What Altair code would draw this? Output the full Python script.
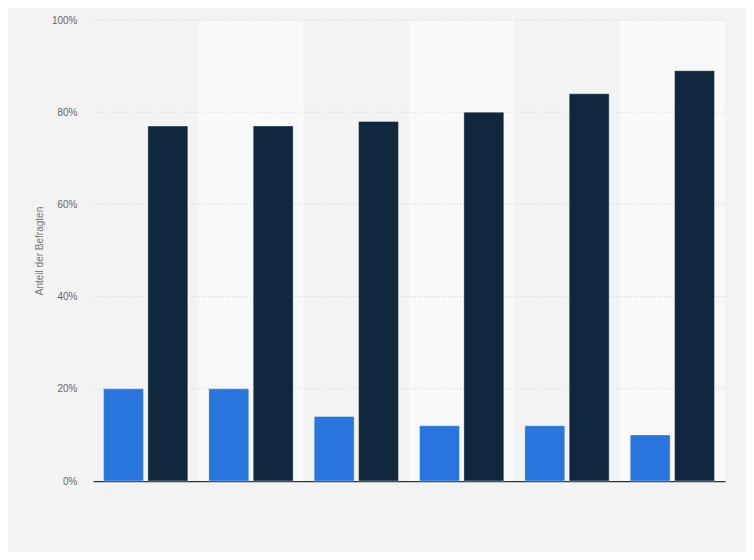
import altair as alt
import pandas as pd

groups = ["1", "2", "3", "4", "5", "6"]
series = ["A", "B"]
values_a = [20, 20, 14, 12, 12, 10]
values_b = [77, 77, 78, 80, 84, 89]
band_shade = [0, 1, 0, 1, 0, 1]
y_ticks = [0, 20, 40, 60, 80, 100]

rows = []
for g, a, b in zip(groups, values_a, values_b):
    rows.append({"grp": g, "ser": "A", "val": a})
    rows.append({"grp": g, "ser": "B", "val": b})
df = pd.DataFrame(rows)

bands = pd.DataFrame({
    "i": list(range(len(groups))),
    "i2": [k + 1 for k in range(len(groups))],
    "shade": band_shade,
    "lo": [0] * len(groups),
    "hi": [100] * len(groups),
})
grid_df = pd.DataFrame({"t": y_ticks[1:]})

W, H = 632, 461
yscale = alt.Scale(domain=[0, 100])

bg = alt.Chart(bands).mark_rect().encode(
    x=alt.X("i:Q", scale=alt.Scale(domain=[0, len(groups)], nice=False, zero=False), axis=None),
    x2="i2:Q",
    y=alt.Y("lo:Q", scale=yscale),
    y2="hi:Q",
    color=alt.Color("shade:N", scale=alt.Scale(domain=[0, 1], range=["#f3f3f3", "#f9f9f9"]), legend=None),
)

grid = alt.Chart(grid_df).mark_rule(color="#cfcfcf", strokeDash=[1, 2], strokeWidth=1).encode(
    y=alt.Y("t:Q", scale=yscale),
)

bars = alt.Chart(df).mark_bar(stroke="#ffffff", strokeOpacity=0.35, strokeWidth=1).encode(
    x=alt.X("grp:N", sort=groups,
            scale=alt.Scale(paddingInner=0.2, paddingOuter=0.1),
            axis=alt.Axis(labels=False, ticks=False, title=None, domainColor="#333333", domainWidth=1.5, grid=False)),
    xOffset=alt.XOffset("ser:N", scale=alt.Scale(paddingInner=0.1, paddingOuter=0)),
    y=alt.Y("val:Q", scale=yscale,
            axis=alt.Axis(values=y_ticks, labelExpr="datum.value + '%'",
                          title="Anteil der Befragten", titleFontSize=10, titleFontWeight="normal",
                          titleColor="#777777", titlePadding=7, labelColor="#666666", labelFontSize=10,
                          labelPadding=16, ticks=False, domain=False, grid=False,
                          labelFont="Liberation Sans", titleFont="Liberation Sans")),
    color=alt.Color("ser:N", scale=alt.Scale(domain=series, range=["#2876dd", "#10273d"]), legend=None),
)

chart = alt.layer(bg, grid, bars).resolve_scale(x="independent", color="independent").properties(
    width=W, height=H,
    background="#f3f3f3",
    autosize=alt.AutoSizeParams(type="none"),
    padding={"left": 85, "top": 12, "right": 21, "bottom": 71},
).configure_view(stroke=None)

chart.save("out.html", embed_options={"renderer": "svg", "actions": False})
